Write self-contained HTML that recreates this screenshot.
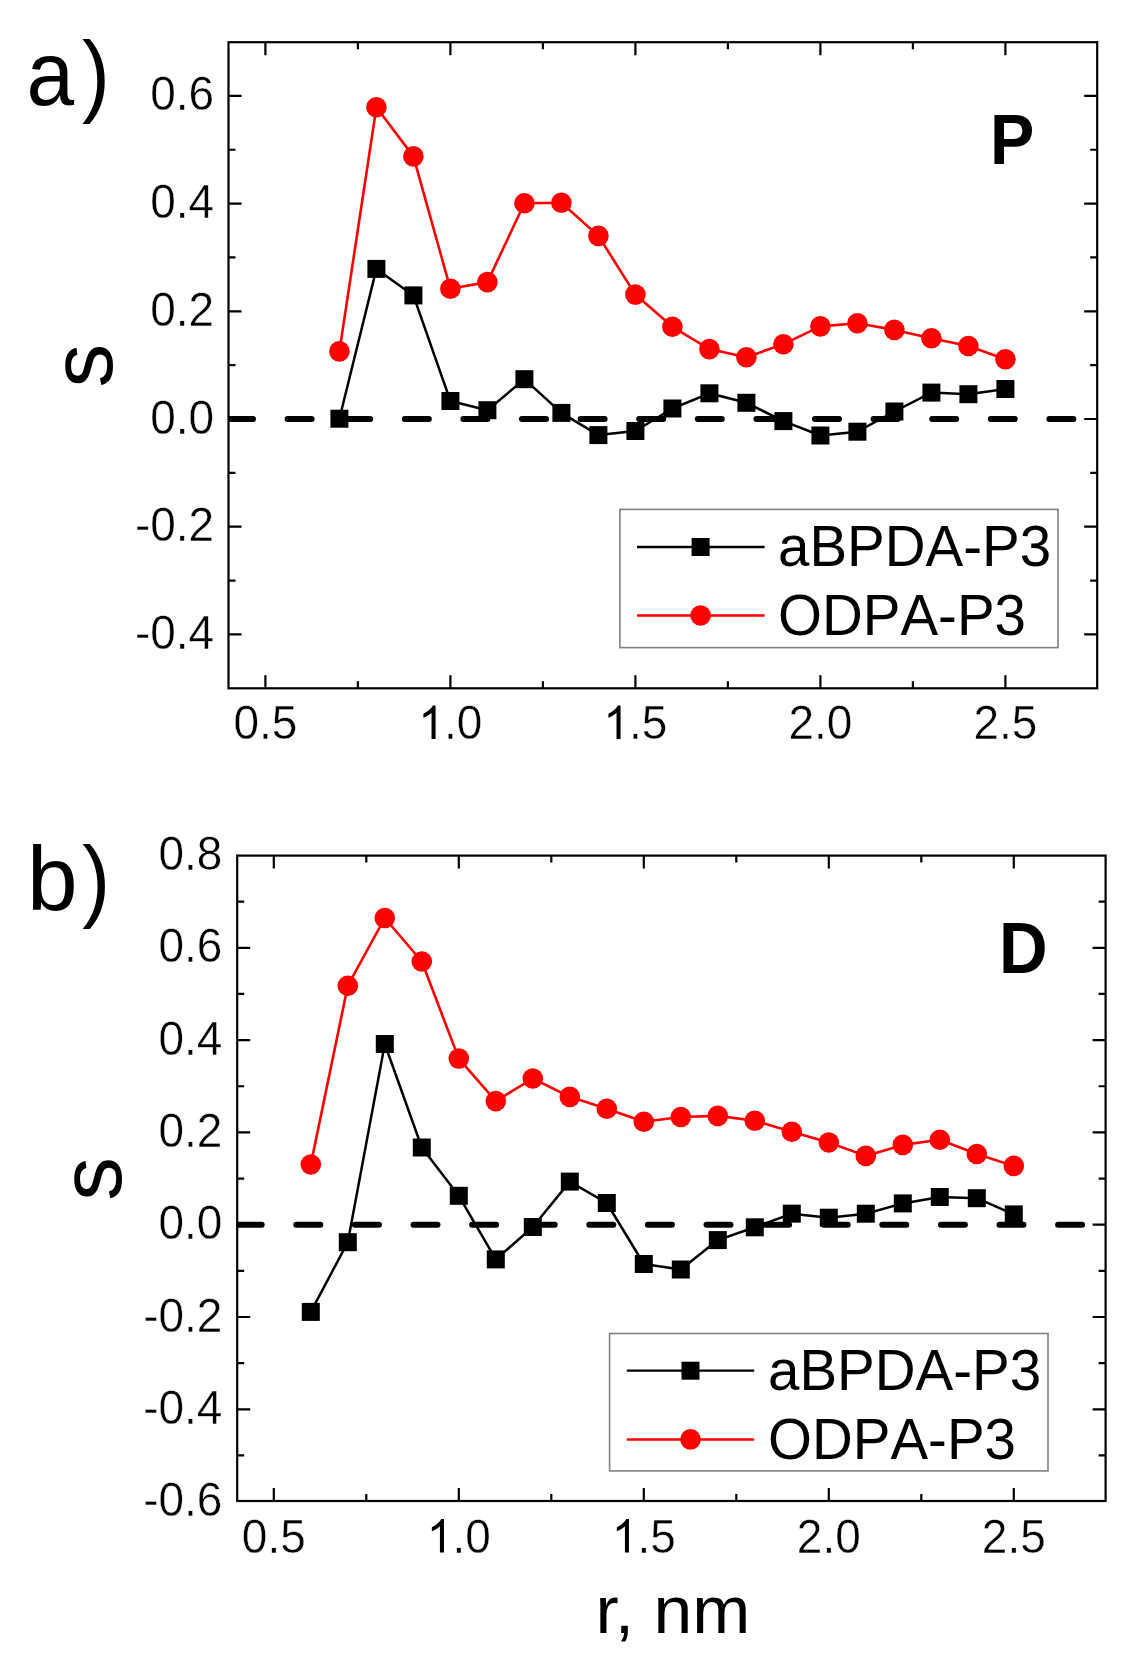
<!DOCTYPE html>
<html><head><meta charset="utf-8"><style>
html,body{margin:0;padding:0;background:#fff;}
svg{display:block;will-change:transform;}
text{font-family:"Liberation Sans", sans-serif;fill:#000;font-kerning:none;}
.tl{font-size:46px;stroke:#fff;stroke-width:0.4px;}
.lg{font-size:56.5px;}
.pl{font-size:91px;}
.bl{font-size:68px;font-weight:bold;}
.sl{font-size:87.5px;}
.xl{font-size:69px;font-kerning:normal;}
</style></head><body>
<svg width="1131" height="1666" viewBox="0 0 1131 1666">
<rect width="1131" height="1666" fill="#fff"/>
<clipPath id="c228"><rect x="228.5" y="42.2" width="868.7" height="646.1"/></clipPath>
<line x1="229" y1="419" x2="1096.2" y2="419" stroke="#000" stroke-width="6" stroke-linecap="round" stroke-dasharray="24 34.6" clip-path="url(#c228)"/>
<path d="M265.4 688.3v-13M265.4 42.2v13M450.4 688.3v-13M450.4 42.2v13M635.4 688.3v-13M635.4 42.2v13M820.4 688.3v-13M820.4 42.2v13M1005.4 688.3v-13M1005.4 42.2v13M357.9 688.3v-7M357.9 42.2v7M542.9 688.3v-7M542.9 42.2v7M727.9 688.3v-7M727.9 42.2v7M912.9 688.3v-7M912.9 42.2v7M228.5 634.4h13M1097.2 634.4h-13M228.5 526.7h13M1097.2 526.7h-13M228.5 419h13M1097.2 419h-13M228.5 311.3h13M1097.2 311.3h-13M228.5 203.6h13M1097.2 203.6h-13M228.5 95.9h13M1097.2 95.9h-13M228.5 580.55h7M1097.2 580.55h-7M228.5 472.85h7M1097.2 472.85h-7M228.5 365.15h7M1097.2 365.15h-7M228.5 257.45h7M1097.2 257.45h-7M228.5 149.75h7M1097.2 149.75h-7" stroke="#000" stroke-width="2.2" fill="none"/>
<rect x="228.5" y="42.2" width="868.7" height="646.1" fill="none" stroke="#000" stroke-width="2.2"/>
<text transform="translate(214.2,648.9) scale(1,1.063)" text-anchor="end" class="tl">-0.4</text>
<text transform="translate(214.2,541.2) scale(1,1.063)" text-anchor="end" class="tl">-0.2</text>
<text transform="translate(214.2,433.5) scale(1,1.063)" text-anchor="end" class="tl">0.0</text>
<text transform="translate(214.2,325.8) scale(1,1.063)" text-anchor="end" class="tl">0.2</text>
<text transform="translate(214.2,218.1) scale(1,1.063)" text-anchor="end" class="tl">0.4</text>
<text transform="translate(214.2,110.4) scale(1,1.063)" text-anchor="end" class="tl">0.6</text>
<text transform="translate(265.4,739) scale(1,1.063)" text-anchor="middle" class="tl">0.5</text>
<path d="M763 0L583 0L583 1147Q518 1085 423 1029Q328 973 223 934L223 1108Q374 1179 487 1280Q600 1381 646 1472L763 1472Z" transform="translate(418.43,739) scale(0.022461,-0.022820)" fill="#000"/>
<text transform="translate(444.01,739) scale(1,1.063)" class="tl">.0</text>
<path d="M763 0L583 0L583 1147Q518 1085 423 1029Q328 973 223 934L223 1108Q374 1179 487 1280Q600 1381 646 1472L763 1472Z" transform="translate(603.43,739) scale(0.022461,-0.022820)" fill="#000"/>
<text transform="translate(629.01,739) scale(1,1.063)" class="tl">.5</text>
<text transform="translate(820.4,739) scale(1,1.063)" text-anchor="middle" class="tl">2.0</text>
<text transform="translate(1005.4,739) scale(1,1.063)" text-anchor="middle" class="tl">2.5</text>
<polyline points="339.4,418.7 376.4,268.9 413.4,295.4 450.4,401 487.4,410.2 524.4,379.2 561.4,412.9 598.4,435.1 635.4,431 672.4,408.5 709.4,393.3 746.4,402.8 783.4,421.1 820.4,435.5 857.4,431.7 894.4,411.5 931.4,392.6 968.4,394.2 1005.4,389" fill="none" stroke="#000" stroke-width="2.5" stroke-linejoin="round"/>
<rect x="330.4" y="409.7" width="18" height="18" fill="#000"/>
<rect x="367.4" y="259.9" width="18" height="18" fill="#000"/>
<rect x="404.4" y="286.4" width="18" height="18" fill="#000"/>
<rect x="441.4" y="392" width="18" height="18" fill="#000"/>
<rect x="478.4" y="401.2" width="18" height="18" fill="#000"/>
<rect x="515.4" y="370.2" width="18" height="18" fill="#000"/>
<rect x="552.4" y="403.9" width="18" height="18" fill="#000"/>
<rect x="589.4" y="426.1" width="18" height="18" fill="#000"/>
<rect x="626.4" y="422" width="18" height="18" fill="#000"/>
<rect x="663.4" y="399.5" width="18" height="18" fill="#000"/>
<rect x="700.4" y="384.3" width="18" height="18" fill="#000"/>
<rect x="737.4" y="393.8" width="18" height="18" fill="#000"/>
<rect x="774.4" y="412.1" width="18" height="18" fill="#000"/>
<rect x="811.4" y="426.5" width="18" height="18" fill="#000"/>
<rect x="848.4" y="422.7" width="18" height="18" fill="#000"/>
<rect x="885.4" y="402.5" width="18" height="18" fill="#000"/>
<rect x="922.4" y="383.6" width="18" height="18" fill="#000"/>
<rect x="959.4" y="385.2" width="18" height="18" fill="#000"/>
<rect x="996.4" y="380" width="18" height="18" fill="#000"/>
<polyline points="339.4,351.4 376.4,107.3 413.4,156.4 450.4,288.8 487.4,282.1 524.4,203.3 561.4,202.8 598.4,235.9 635.4,294.6 672.4,326.8 709.4,349.1 746.4,357.2 783.4,344.2 820.4,326.4 857.4,323.2 894.4,329.9 931.4,338.2 968.4,346 1005.4,359.3" fill="none" stroke="#f00" stroke-width="2.6" stroke-linejoin="round"/>
<circle cx="339.4" cy="351.4" r="10.3" fill="#f00"/>
<circle cx="376.4" cy="107.3" r="10.3" fill="#f00"/>
<circle cx="413.4" cy="156.4" r="10.3" fill="#f00"/>
<circle cx="450.4" cy="288.8" r="10.3" fill="#f00"/>
<circle cx="487.4" cy="282.1" r="10.3" fill="#f00"/>
<circle cx="524.4" cy="203.3" r="10.3" fill="#f00"/>
<circle cx="561.4" cy="202.8" r="10.3" fill="#f00"/>
<circle cx="598.4" cy="235.9" r="10.3" fill="#f00"/>
<circle cx="635.4" cy="294.6" r="10.3" fill="#f00"/>
<circle cx="672.4" cy="326.8" r="10.3" fill="#f00"/>
<circle cx="709.4" cy="349.1" r="10.3" fill="#f00"/>
<circle cx="746.4" cy="357.2" r="10.3" fill="#f00"/>
<circle cx="783.4" cy="344.2" r="10.3" fill="#f00"/>
<circle cx="820.4" cy="326.4" r="10.3" fill="#f00"/>
<circle cx="857.4" cy="323.2" r="10.3" fill="#f00"/>
<circle cx="894.4" cy="329.9" r="10.3" fill="#f00"/>
<circle cx="931.4" cy="338.2" r="10.3" fill="#f00"/>
<circle cx="968.4" cy="346" r="10.3" fill="#f00"/>
<circle cx="1005.4" cy="359.3" r="10.3" fill="#f00"/>
<clipPath id="c237"><rect x="237.2" y="855.6" width="868.4" height="645.4"/></clipPath>
<line x1="237.7" y1="1224.7" x2="1104.6" y2="1224.7" stroke="#000" stroke-width="6" stroke-linecap="round" stroke-dasharray="24 34.6" clip-path="url(#c237)"/>
<path d="M273.8 1501v-13M273.8 855.6v13M458.8 1501v-13M458.8 855.6v13M643.8 1501v-13M643.8 855.6v13M828.8 1501v-13M828.8 855.6v13M1013.8 1501v-13M1013.8 855.6v13M366.3 1501v-7M366.3 855.6v7M551.3 1501v-7M551.3 855.6v7M736.3 1501v-7M736.3 855.6v7M921.3 1501v-7M921.3 855.6v7M237.2 1409.3h13M1105.6 1409.3h-13M237.2 1317h13M1105.6 1317h-13M237.2 1224.7h13M1105.6 1224.7h-13M237.2 1132.4h13M1105.6 1132.4h-13M237.2 1040.1h13M1105.6 1040.1h-13M237.2 947.8h13M1105.6 947.8h-13M237.2 1455.45h7M1105.6 1455.45h-7M237.2 1363.15h7M1105.6 1363.15h-7M237.2 1270.85h7M1105.6 1270.85h-7M237.2 1178.55h7M1105.6 1178.55h-7M237.2 1086.25h7M1105.6 1086.25h-7M237.2 993.95h7M1105.6 993.95h-7M237.2 901.65h7M1105.6 901.65h-7" stroke="#000" stroke-width="2.2" fill="none"/>
<rect x="237.2" y="855.6" width="868.4" height="645.4" fill="none" stroke="#000" stroke-width="2.2"/>
<text transform="translate(222.4,1516.1) scale(1,1.063)" text-anchor="end" class="tl">-0.6</text>
<text transform="translate(222.4,1423.8) scale(1,1.063)" text-anchor="end" class="tl">-0.4</text>
<text transform="translate(222.4,1331.5) scale(1,1.063)" text-anchor="end" class="tl">-0.2</text>
<text transform="translate(222.4,1239.2) scale(1,1.063)" text-anchor="end" class="tl">0.0</text>
<text transform="translate(222.4,1146.9) scale(1,1.063)" text-anchor="end" class="tl">0.2</text>
<text transform="translate(222.4,1054.6) scale(1,1.063)" text-anchor="end" class="tl">0.4</text>
<text transform="translate(222.4,962.3) scale(1,1.063)" text-anchor="end" class="tl">0.6</text>
<text transform="translate(222.4,870) scale(1,1.063)" text-anchor="end" class="tl">0.8</text>
<text transform="translate(273.8,1552.5) scale(1,1.063)" text-anchor="middle" class="tl">0.5</text>
<path d="M763 0L583 0L583 1147Q518 1085 423 1029Q328 973 223 934L223 1108Q374 1179 487 1280Q600 1381 646 1472L763 1472Z" transform="translate(426.83,1552.5) scale(0.022461,-0.022820)" fill="#000"/>
<text transform="translate(452.41,1552.5) scale(1,1.063)" class="tl">.0</text>
<path d="M763 0L583 0L583 1147Q518 1085 423 1029Q328 973 223 934L223 1108Q374 1179 487 1280Q600 1381 646 1472L763 1472Z" transform="translate(611.83,1552.5) scale(0.022461,-0.022820)" fill="#000"/>
<text transform="translate(637.41,1552.5) scale(1,1.063)" class="tl">.5</text>
<text transform="translate(828.8,1552.5) scale(1,1.063)" text-anchor="middle" class="tl">2.0</text>
<text transform="translate(1013.8,1552.5) scale(1,1.063)" text-anchor="middle" class="tl">2.5</text>
<polyline points="310.8,1311.9 347.8,1242.2 384.8,1044 421.8,1147.5 458.8,1195.8 495.8,1259.4 532.8,1227 569.8,1181.6 606.8,1203 643.8,1264 680.8,1269.5 717.8,1240.1 754.8,1227.3 791.8,1213.65 828.8,1217.7 865.8,1213.7 902.8,1203.4 939.8,1197 976.8,1198.2 1013.8,1214.4" fill="none" stroke="#000" stroke-width="2.5" stroke-linejoin="round"/>
<rect x="301.8" y="1302.9" width="18" height="18" fill="#000"/>
<rect x="338.8" y="1233.2" width="18" height="18" fill="#000"/>
<rect x="375.8" y="1035" width="18" height="18" fill="#000"/>
<rect x="412.8" y="1138.5" width="18" height="18" fill="#000"/>
<rect x="449.8" y="1186.8" width="18" height="18" fill="#000"/>
<rect x="486.8" y="1250.4" width="18" height="18" fill="#000"/>
<rect x="523.8" y="1218" width="18" height="18" fill="#000"/>
<rect x="560.8" y="1172.6" width="18" height="18" fill="#000"/>
<rect x="597.8" y="1194" width="18" height="18" fill="#000"/>
<rect x="634.8" y="1255" width="18" height="18" fill="#000"/>
<rect x="671.8" y="1260.5" width="18" height="18" fill="#000"/>
<rect x="708.8" y="1231.1" width="18" height="18" fill="#000"/>
<rect x="745.8" y="1218.3" width="18" height="18" fill="#000"/>
<rect x="782.8" y="1204.65" width="18" height="18" fill="#000"/>
<rect x="819.8" y="1208.7" width="18" height="18" fill="#000"/>
<rect x="856.8" y="1204.7" width="18" height="18" fill="#000"/>
<rect x="893.8" y="1194.4" width="18" height="18" fill="#000"/>
<rect x="930.8" y="1188" width="18" height="18" fill="#000"/>
<rect x="967.8" y="1189.2" width="18" height="18" fill="#000"/>
<rect x="1004.8" y="1205.4" width="18" height="18" fill="#000"/>
<polyline points="310.8,1164.5 347.8,985.7 384.8,918 421.8,961.5 458.8,1058.6 495.8,1101.1 532.8,1078.5 569.8,1096.85 606.8,1108.8 643.8,1121.8 680.8,1117 717.8,1115.9 754.8,1120.7 791.8,1131.8 828.8,1142.5 865.8,1155.9 902.8,1144.9 939.8,1139.7 976.8,1154 1013.8,1165.9" fill="none" stroke="#f00" stroke-width="2.6" stroke-linejoin="round"/>
<circle cx="310.8" cy="1164.5" r="10.3" fill="#f00"/>
<circle cx="347.8" cy="985.7" r="10.3" fill="#f00"/>
<circle cx="384.8" cy="918" r="10.3" fill="#f00"/>
<circle cx="421.8" cy="961.5" r="10.3" fill="#f00"/>
<circle cx="458.8" cy="1058.6" r="10.3" fill="#f00"/>
<circle cx="495.8" cy="1101.1" r="10.3" fill="#f00"/>
<circle cx="532.8" cy="1078.5" r="10.3" fill="#f00"/>
<circle cx="569.8" cy="1096.85" r="10.3" fill="#f00"/>
<circle cx="606.8" cy="1108.8" r="10.3" fill="#f00"/>
<circle cx="643.8" cy="1121.8" r="10.3" fill="#f00"/>
<circle cx="680.8" cy="1117" r="10.3" fill="#f00"/>
<circle cx="717.8" cy="1115.9" r="10.3" fill="#f00"/>
<circle cx="754.8" cy="1120.7" r="10.3" fill="#f00"/>
<circle cx="791.8" cy="1131.8" r="10.3" fill="#f00"/>
<circle cx="828.8" cy="1142.5" r="10.3" fill="#f00"/>
<circle cx="865.8" cy="1155.9" r="10.3" fill="#f00"/>
<circle cx="902.8" cy="1144.9" r="10.3" fill="#f00"/>
<circle cx="939.8" cy="1139.7" r="10.3" fill="#f00"/>
<circle cx="976.8" cy="1154" r="10.3" fill="#f00"/>
<circle cx="1013.8" cy="1165.9" r="10.3" fill="#f00"/>
<rect x="619.9" y="509.4" width="438.1" height="138.2" fill="#fff" stroke="#808080" stroke-width="1.6"/>
<line x1="637" y1="547" x2="764.6" y2="547" stroke="#000" stroke-width="2.3"/>
<rect x="691.6" y="538" width="18" height="18" fill="#000"/>
<line x1="637" y1="615.5" x2="764.6" y2="615.5" stroke="#f00" stroke-width="2.5"/>
<circle cx="700.6" cy="615.5" r="10.3" fill="#f00"/>
<text transform="translate(778,566.3) scale(1,1.01)" class="lg">aBPDA-P3</text>
<text transform="translate(778,635.3) scale(1,1.01)" class="lg">ODPA-P3</text>
<rect x="609.6" y="1333.5" width="438.4" height="137.4" fill="#fff" stroke="#808080" stroke-width="1.6"/>
<line x1="626.8" y1="1370.7" x2="754.2" y2="1370.7" stroke="#000" stroke-width="2.3"/>
<rect x="681.5" y="1361.7" width="18" height="18" fill="#000"/>
<line x1="626.8" y1="1439.4" x2="754.2" y2="1439.4" stroke="#f00" stroke-width="2.5"/>
<circle cx="690.5" cy="1439.4" r="10.3" fill="#f00"/>
<text transform="translate(768,1390) scale(1,1.01)" class="lg">aBPDA-P3</text>
<text transform="translate(768,1459.4) scale(1,1.01)" class="lg">ODPA-P3</text>
<text transform="translate(26.5,104.5) scale(0.94,1)" class="pl">a</text>
<text transform="translate(82,104.5) scale(0.92,1)" class="pl">)</text>
<text transform="translate(27,910) scale(1,1)" class="pl">b</text>
<text transform="translate(82.3,910) scale(0.92,1)" class="pl">)</text>
<text transform="translate(990,163.8) scale(0.977,1.037)" class="bl">P</text>
<text transform="translate(999,972.6) scale(0.99,1.053)" class="bl">D</text>
<text transform="translate(112,365.5) rotate(-90)" text-anchor="middle" class="sl">s</text>
<text transform="translate(121.2,1178.8) rotate(-90)" text-anchor="middle" class="sl">s</text>
<text transform="translate(595.5,1633.4) scale(1.01,0.97)" class="xl">r, nm</text>
</svg>
</body></html>
